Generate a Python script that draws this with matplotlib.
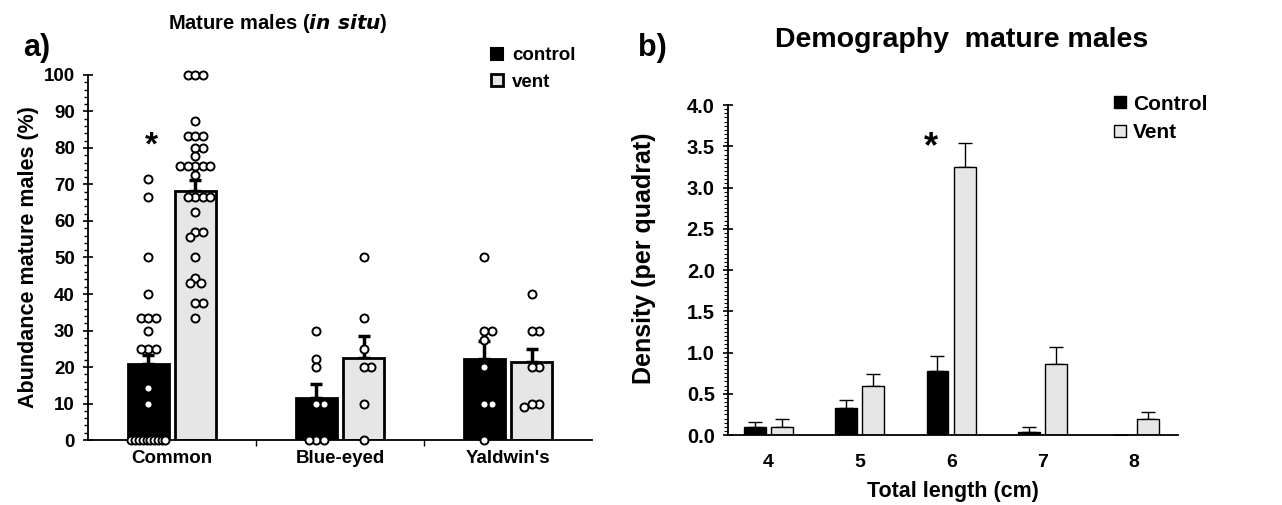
import matplotlib
matplotlib.use("Agg")
import matplotlib.pyplot as plt
from matplotlib.lines import Line2D
from matplotlib.ticker import MultipleLocator, FormatStrFormatter
import numpy as np

plt.rcParams.update({
    "font.family": "Liberation Sans",
    "font.weight": "bold",
    "axes.spines.top": False,
    "axes.spines.right": False,
})

# ── Panel a data ───────────────────────────────────────
species = ["Common", "Blue-eyed", "Yaldwin's"]
ctrl_mean = [20.8, 11.5, 22.2]
ctrl_se = [2.6, 3.8, 5.0]
vent_mean = [68.1, 22.6, 21.3]
vent_se = [3.0, 6.0, 3.5]

ctrl_points = [
    [71.4, 66.7, 50, 40, 33.3, 33.3, 33.3, 30, 25, 25, 25, 14.3, 10,
     0, 0, 0, 0, 0, 0, 0, 0, 0, 0],
    [30, 22.2, 20, 10, 10, 0, 0, 0],
    [50, 30, 30, 27.3, 20, 10, 10, 0],
]
vent_points = [
    [100, 100, 100, 87.5, 83.3, 83.3, 83.3, 80, 80, 77.8, 75, 75, 75, 75, 75,
     72.7, 66.7, 66.7, 66.7, 66.7, 62.5, 57.1, 57.1, 55.6, 50, 44.4, 42.9,
     42.9, 37.5, 37.5, 33.3],
    [50, 33.3, 25, 20, 20, 10, 0],
    [40, 30, 30, 20, 20, 10, 10, 9],
]

# ── Panel b data ───────────────────────────────────────
lengths = [4, 5, 6, 7, 8]
dens_ctrl = [0.10, 0.33, 0.78, 0.04, 0.0]
dens_ctrl_se = [0.06, 0.10, 0.18, 0.06, 0.0]
dens_vent = [0.10, 0.60, 3.25, 0.86, 0.20]
dens_vent_se = [0.10, 0.14, 0.29, 0.21, 0.08]

GREY = "#e6e6e6"

fig = plt.figure(figsize=(12.82, 5.05), dpi=100)
ax1 = fig.add_axes([0.0686, 0.1287, 0.3932, 0.7228])
ax2 = fig.add_axes([0.5679, 0.1386, 0.3510, 0.6534])


def swarm(vals, px_per_unit, d, max_off):
    """simple beeswarm offsets in pixels"""
    order = np.argsort(vals)[::-1]
    placed = []
    offs = np.zeros(len(vals))
    for i in order:
        y = vals[i] * px_per_unit
        step = d / 4
        k = 0
        while True:
            cands = [0.0] if k == 0 else [k * step, -k * step]
            ok = None
            for c in cands:
                if all((c - po) ** 2 + (y - py) ** 2 >= (0.92 * d) ** 2 for po, py in placed):
                    ok = c
                    break
            if ok is not None:
                break
            k += 1
        offs[i] = ok
        placed.append((ok, y))
    # squeeze rows that are wider than the bar
    vals = np.asarray(vals)
    for v in np.unique(vals):
        m = vals == v
        if m.sum() > 1 and np.abs(offs[m]).max() > max_off:
            idx = np.where(m)[0]
            offs[idx] = np.linspace(-max_off, max_off, len(idx))
    return offs


x = np.arange(len(species))
w = 0.24
dx = 0.14
px_y = 365 / 100.0      # pixels per percent
px_x = 168.0            # pixels per group

ax1.bar(x - dx, ctrl_mean, w, color="black", edgecolor="black", linewidth=2, zorder=2)
ax1.bar(x + dx, vent_mean, w, color=GREY, edgecolor="black", linewidth=2, zorder=2)
ax1.errorbar(x - dx, ctrl_mean, yerr=[np.zeros(3), ctrl_se], fmt="none",
             ecolor="black", elinewidth=2.5, capsize=4, capthick=2.5, zorder=1.5)
ax1.errorbar(x + dx, vent_mean, yerr=[np.zeros(3), vent_se], fmt="none",
             ecolor="black", elinewidth=2.5, capsize=4, capthick=2.5, zorder=1.5)

for i in range(len(species)):
    for pts, sgn in ((ctrl_points[i], -1), (vent_points[i], 1)):
        offs = swarm(pts, px_y, 7.5, 17.0) / px_x
        ax1.plot(x[i] + sgn * dx + offs, pts, "o", ms=5.8, mfc="white", mec="black",
                 mew=1.4, clip_on=False, zorder=3)

ax1.set_xlim(-0.5, 2.5)
ax1.set_ylim(0, 100)
ax1.yaxis.set_major_locator(MultipleLocator(10))
ax1.yaxis.set_minor_locator(MultipleLocator(2))
ax1.set_xticks([0.5, 1.5], minor=False)
ax1.set_xticklabels([])
ax1.set_xticks(x, minor=True)
ax1.set_xticklabels(species, minor=True, fontsize=13.5, fontweight="bold")
ax1.tick_params(axis="x", which="major", length=4, width=1, direction="out")
ax1.tick_params(axis="x", which="minor", length=0, pad=7)
ax1.tick_params(axis="y", which="major", length=7, width=1.2, direction="inout", labelsize=13.5, pad=6)
ax1.tick_params(axis="y", which="minor", length=3, width=1, direction="out")
for s in ("left", "bottom"):
    ax1.spines[s].set_linewidth(1.3)
ax1.set_ylabel("Abundance mature males (%)", fontsize=15.5, fontweight="bold", labelpad=3)
ax1.text(0 - dx + 0.02, 80.5, "*", fontsize=24, ha="center", va="center")

fig.text(0.217, 0.953, r"Mature males ($\bfit{in\ situ}$)", fontsize=14.5, fontweight="bold",
         ha="center", va="center")
fig.text(0.018, 0.905, "a)", fontsize=22, fontweight="bold", ha="left", va="center")

leg1 = [Line2D([], [], ls="", marker="s", ms=9, mfc="black", mec="black", mew=1.5),
        Line2D([], [], ls="", marker="s", ms=9, mfc=GREY, mec="black", mew=2)]
fig.legend(leg1, ["control", "vent"], loc="upper left", bbox_to_anchor=(0.366, 0.94),
           frameon=False, prop={"family": "Liberation Sans", "weight": "bold", "size": 13.5},
           handletextpad=0.2, labelspacing=0.5, handlelength=1.2)

# ── Panel b ────────────────────────────────────────────
xb = np.array(lengths, dtype=float)
wb = 0.24
dxb = 0.15
ax2.bar(xb - dxb, dens_ctrl, wb, color="black", edgecolor="black", linewidth=1, zorder=2)
ax2.bar(xb + dxb, dens_vent, wb, color=GREY, edgecolor="black", linewidth=1, zorder=2)
ax2.errorbar(xb - dxb, dens_ctrl, yerr=[np.zeros(5), dens_ctrl_se], fmt="none",
             ecolor="black", elinewidth=1, capsize=5, capthick=1, zorder=1.5)
ax2.errorbar(xb + dxb, dens_vent, yerr=[np.zeros(5), dens_vent_se], fmt="none",
             ecolor="black", elinewidth=1, capsize=5, capthick=1, zorder=1.5)

ax2.set_xlim(3.56, 8.48)
ax2.set_ylim(0, 4.0)
ax2.set_xticks(lengths)
ax2.set_xticklabels([str(v) for v in lengths], fontsize=14, fontweight="bold")
ax2.yaxis.set_major_locator(MultipleLocator(0.5))
ax2.yaxis.set_minor_locator(MultipleLocator(0.05))
ax2.yaxis.set_major_formatter(FormatStrFormatter("%.1f"))
ax2.tick_params(axis="x", length=0, pad=14)
ax2.tick_params(axis="y", which="major", length=7, width=1.2, direction="inout", labelsize=14.5, pad=6)
ax2.tick_params(axis="y", which="minor", length=3, width=0.8, direction="out")
for s in ("left", "bottom"):
    ax2.spines[s].set_linewidth(1.3)
ax2.set_ylabel("Density (per quadrat)", fontsize=18, fontweight="bold", va="center")
ax2.yaxis.set_label_coords(-0.187, 0.535)
ax2.set_xlabel("Total length (cm)", fontsize=15.5, fontweight="bold", labelpad=7)
ax2.text(6 - 0.22, 3.48, "*", fontsize=26, ha="center", va="center")

fig.text(0.750, 0.92, "Demography  mature males", fontsize=20.5, fontweight="bold",
         ha="center", va="center")
fig.text(0.498, 0.905, "b)", fontsize=22, fontweight="bold", ha="left", va="center")

leg2 = [Line2D([], [], ls="", marker="s", ms=8, mfc="black", mec="black", mew=1),
        Line2D([], [], ls="", marker="s", ms=8, mfc=GREY, mec="black", mew=1)]
fig.legend(leg2, ["Control", "Vent"], loc="upper left", bbox_to_anchor=(0.852, 0.85),
           frameon=False, prop={"family": "Liberation Sans", "weight": "bold", "size": 15},
           handletextpad=0.15, labelspacing=0.45, handlelength=0.9)

fig.savefig("out.png", dpi=100)
